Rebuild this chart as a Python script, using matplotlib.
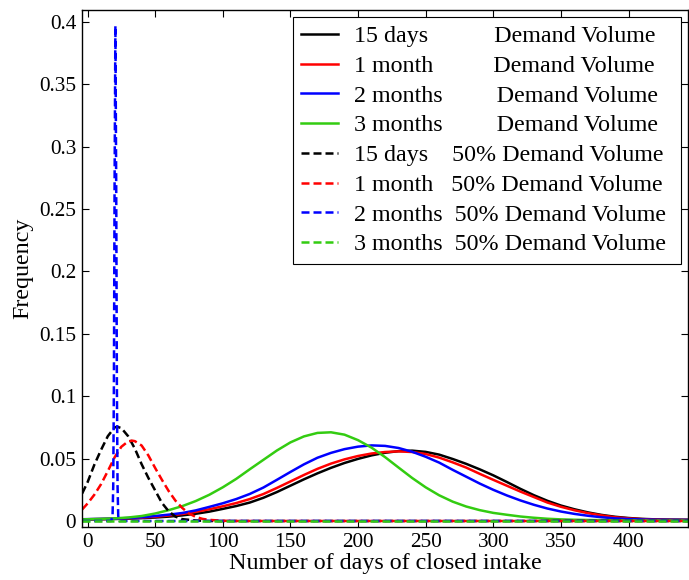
import matplotlib
matplotlib.use("Agg")
import matplotlib.pyplot as plt

plt.rcParams["font.family"] = ["Liberation Serif", "DejaVu Serif"]

# closed-intake distributions for the full demand volume (solid lines)
x_full = [-4, 0, 10, 20, 30, 40, 50, 60, 70, 80, 90, 100, 110, 120, 130, 140,
          150, 160, 170, 180, 190, 200, 210, 220, 230, 240, 250, 260, 270, 280,
          290, 300, 310, 320, 330, 340, 350, 360, 370, 380, 390, 400, 410, 420,
          430, 444]
freq_15d = [0.0011, 0.0012, 0.0014, 0.0016, 0.0019, 0.0023, 0.0028, 0.0035,
            0.0045, 0.0058, 0.0075, 0.0097, 0.0120, 0.0148, 0.0186, 0.0232,
            0.0283, 0.0334, 0.0382, 0.0426, 0.0465, 0.0498, 0.0526, 0.0547,
            0.0560, 0.0564, 0.0554, 0.0532, 0.0497, 0.0458, 0.0414, 0.0366,
            0.0313, 0.0258, 0.0207, 0.0162, 0.0124, 0.0094, 0.0069, 0.0049,
            0.0034, 0.0024, 0.0017, 0.0013, 0.0011, 0.0010]
freq_1m = [0.0013, 0.0014, 0.0016, 0.0018, 0.0022, 0.0027, 0.0034, 0.0044,
           0.0056, 0.0073, 0.0094, 0.0118, 0.0144, 0.0176, 0.0216, 0.0265,
           0.0317, 0.0369, 0.0418, 0.0460, 0.0494, 0.0521, 0.0541, 0.0553,
           0.0558, 0.0553, 0.0537, 0.0508, 0.0470, 0.0428, 0.0378, 0.0330,
           0.0283, 0.0236, 0.0192, 0.0148, 0.0114, 0.0086, 0.0063, 0.0045,
           0.0030, 0.0021, 0.0015, 0.0011, 0.0009, 0.0008]
freq_2m = [0.0014, 0.0015, 0.0017, 0.0019, 0.0024, 0.0030, 0.0040, 0.0051,
           0.0064, 0.0085, 0.0113, 0.0142, 0.0176, 0.0217, 0.0268, 0.0330,
           0.0393, 0.0454, 0.0507, 0.0546, 0.0576, 0.0596, 0.0606, 0.0602,
           0.0585, 0.0555, 0.0515, 0.0468, 0.0410, 0.0355, 0.0300, 0.0250,
           0.0205, 0.0165, 0.0130, 0.0100, 0.0076, 0.0057, 0.0042, 0.0030,
           0.0021, 0.0016, 0.0012, 0.0010, 0.0009, 0.0008]
freq_3m = [0.0013, 0.0014, 0.0017, 0.0021, 0.0028, 0.0040, 0.0060, 0.0087,
           0.0119, 0.0160, 0.0210, 0.0270, 0.0338, 0.0415, 0.0490, 0.0565,
           0.0630, 0.0678, 0.0706, 0.0711, 0.0692, 0.0648, 0.0588, 0.0512,
           0.0428, 0.0345, 0.0270, 0.0206, 0.0155, 0.0116, 0.0087, 0.0065,
           0.0050, 0.0036, 0.0026, 0.0018, 0.0013, 0.0010, 0.0008, 0.0007,
           0.0006, 0.0005, 0.0005, 0.0004, 0.0004, 0.0004]

# same periods with 50% of the demand volume (dashed lines)
x_half_15d = [-4, 0, 5, 10, 15, 20, 22, 25, 30, 35, 40, 45, 50, 55, 60, 65,
              70, 80, 90, 444]
half_15d = [0.022, 0.031, 0.045, 0.057, 0.068, 0.0750, 0.0755, 0.0745, 0.068,
            0.058, 0.0455, 0.0345, 0.0245, 0.0145, 0.0078, 0.0035, 0.0015,
            0.0004, 0.0, 0.0]
x_half_1m = [-4, 0, 5, 10, 15, 20, 25, 30, 33, 35, 40, 45, 50, 55, 60, 65,
             70, 75, 80, 85, 90, 100, 110, 444]
half_1m = [0.0092, 0.0140, 0.0210, 0.0295, 0.0400, 0.0510, 0.0595, 0.0638,
           0.0644, 0.0640, 0.0605, 0.0525, 0.0425, 0.0330, 0.0240, 0.0163,
           0.0105, 0.0060, 0.0033, 0.0017, 0.0009, 0.0002, 0.0, 0.0]
x_half_2m = [-4, 17.5, 18.5, 19.0, 19.5, 20.0, 20.6, 21.2, 21.7, 22.2, 22.7,
             23.7, 444]
half_2m = [0.0, 0.0, 0.004, 0.028, 0.11, 0.27, 0.397, 0.27, 0.11, 0.028, 0.004,
           0.0, 0.0]
x_half_3m = [-4, 444]
half_3m = [0.0, 0.0]

legend_labels = [
    "15 days" + " " * 11 + "Demand Volume",
    "1 month" + " " * 10 + "Demand Volume",
    "2 months" + " " * 9 + "Demand Volume",
    "3 months" + " " * 9 + "Demand Volume",
    "15 days" + " " * 4 + "50% Demand Volume",
    "1 month" + " " * 3 + "50% Demand Volume",
    "2 months" + " " * 2 + "50% Demand Volume ",
    "3 months" + " " * 2 + "50% Demand Volume ",
]

x_ticks = [0, 50, 100, 150, 200, 250, 300, 350, 400]
y_ticks = [0, 0.05, 0.1, 0.15, 0.2, 0.25, 0.3, 0.35, 0.4]
y_tick_labels = ["0", "0.05", "0.1", "0.15", "0.2", "0.25", "0.3", "0.35", "0.4"]

green = "#33cc11"
dash = (0, (3.2, 1.6))
lw = 1.8

fig = plt.figure(figsize=(6.89, 5.8), dpi=100)
ax = fig.add_axes([0.1186, 0.0914, 0.88, 0.8914])

ax.plot(x_full, freq_15d, color="black", lw=lw, label=legend_labels[0])
ax.plot(x_full, freq_1m, color="red", lw=lw, label=legend_labels[1])
ax.plot(x_full, freq_2m, color="blue", lw=lw, label=legend_labels[2])
ax.plot(x_full, freq_3m, color=green, lw=lw, label=legend_labels[3])
ax.plot(x_half_15d, half_15d, color="black", lw=lw, ls=dash, label=legend_labels[4])
ax.plot(x_half_1m, half_1m, color="red", lw=lw, ls=dash, label=legend_labels[5])
ax.plot(x_half_2m, half_2m, color="blue", lw=lw, ls=dash, label=legend_labels[6])
ax.plot(x_half_3m, half_3m, color=green, lw=lw, ls=dash, label=legend_labels[7])

ax.set_xlim(-4.3, 444)
ax.set_ylim(-0.0048, 0.4096)
ax.set_xticks(x_ticks)
ax.set_xticklabels([str(t) for t in x_ticks])
ax.set_yticks(y_ticks)
ax.set_yticklabels(y_tick_labels)
ax.tick_params(direction="in", top=True, right=True, length=5, width=0.8,
               labelsize=15.3, pad=4)
for s in ax.spines.values():
    s.set_linewidth(1.0)

ax.set_xlabel("Number of days of closed intake", fontsize=17.3, labelpad=1)
ax.set_ylabel("Frequency", fontsize=17.3, labelpad=4)

leg = ax.legend(loc="upper left", bbox_to_anchor=(0.3485, 0.9865),
                borderaxespad=0, fontsize=17.3, handlelength=1.53,
                handletextpad=0.67, labelspacing=0.33, borderpad=0.35,
                fancybox=False, framealpha=1, edgecolor="black")
leg.get_frame().set_linewidth(0.8)

plt.savefig("out.png", dpi=100)
